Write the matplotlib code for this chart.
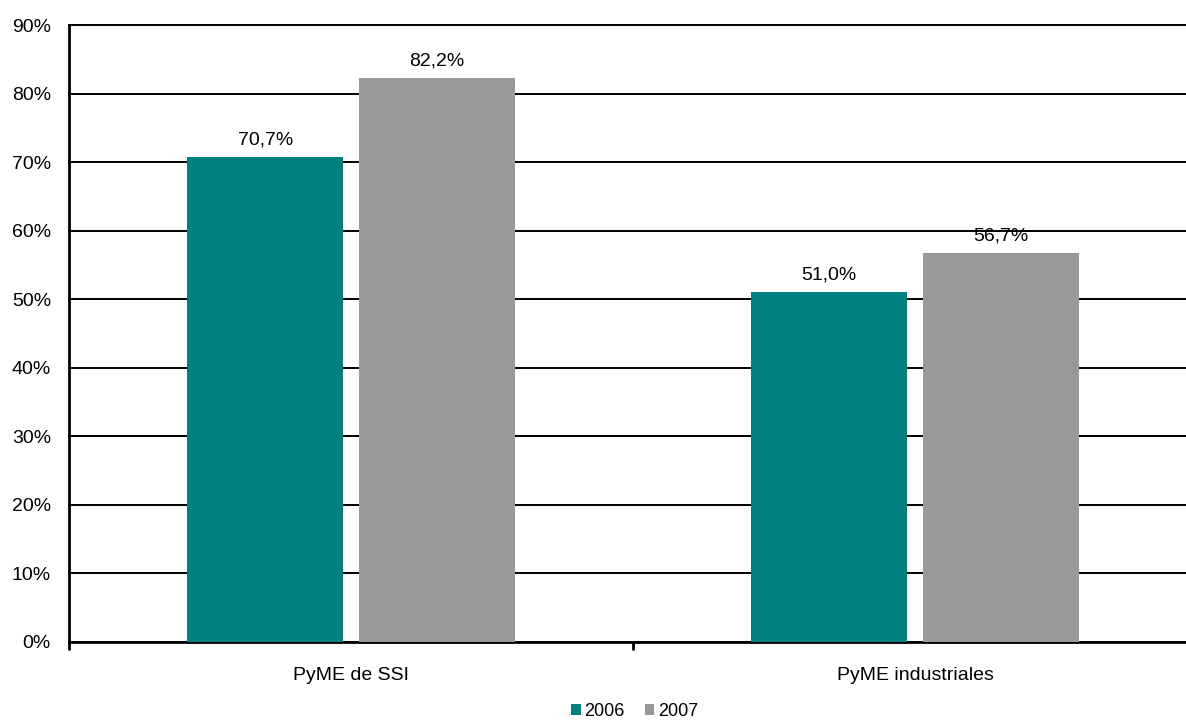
import matplotlib.pyplot as plt
import numpy as np

plt.rcParams['font.family'] = ['Liberation Sans', 'DejaVu Sans']

categorias = ["PyME de SSI", "PyME industriales"]
series = ["2006", "2007"]
valores_2006 = [70.7, 51.0]
valores_2007 = [82.2, 56.7]
colores = ["#008080", "#999999"]

fig = plt.figure(figsize=(11.86, 7.23), dpi=100)
ax = fig.add_axes([69 / 1186, 1 - 642 / 723, 1128 / 1186, 617 / 723])

x = np.arange(len(categorias))
ancho = 0.277
desp = 0.152

b1 = ax.bar(x - desp, valores_2006, ancho, color=colores[0], label=series[0], zorder=3)
b2 = ax.bar(x + desp, valores_2007, ancho, color=colores[1], label=series[1], zorder=3)

# etiquetas de valor con coma decimal
for barras, vals in [(b1, valores_2006), (b2, valores_2007)]:
    for b, v in zip(barras, vals):
        ax.text(b.get_x() + b.get_width() / 2, v + 1.3, f"{v:.1f}%".replace(".", ","),
                ha="center", va="bottom", fontsize=14)

ax.set_ylim(0, 90)
ax.set_xlim(-0.5, 1.5)
ax.set_yticks(range(0, 91, 10))
ax.set_yticklabels([f"{t}%" for t in range(0, 91, 10)], fontsize=14)
ax.yaxis.grid(True, color="black", linewidth=1.4, zorder=1)
for g in ax.get_ygridlines():
    g.set_clip_on(False)
ax.set_axisbelow(True)

ax.set_xticks([-0.5, 0.5, 1.5])
ax.set_xticklabels([])
ax.set_xticks(x, minor=True)
ax.set_xticklabels(categorias, minor=True, fontsize=14)
ax.tick_params(axis="x", which="minor", length=0, pad=18)
ax.tick_params(axis="x", which="major", length=6, width=2, direction="out")
ax.tick_params(axis="y", length=0, pad=13)

for s in ["top", "right"]:
    ax.spines[s].set_visible(False)
ax.spines["left"].set_linewidth(2)
ax.spines["bottom"].set_linewidth(2)

fig.legend(handles=[b1, b2], labels=series, loc="center", bbox_to_anchor=(0.535, 0.016),
           ncol=2, frameon=False, fontsize=13, handlelength=0.55, handleheight=0.55,
           handletextpad=0.2, columnspacing=1.1, borderpad=0)

fig.savefig("out.png", dpi=100)
